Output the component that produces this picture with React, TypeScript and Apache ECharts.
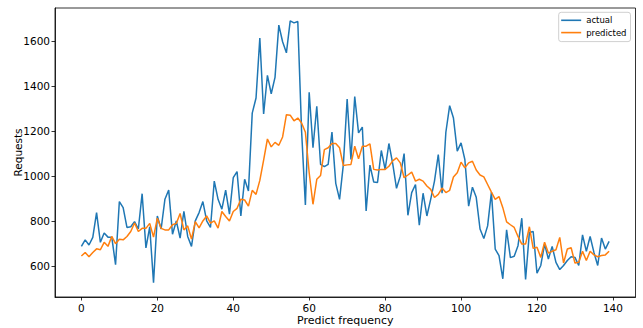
import React, { useEffect, useRef } from "react";
import * as echarts from "echarts";

const actual: number[] = [
  687, 716, 693, 727, 837, 705, 746, 728, 728, 606,
  886, 859, 771, 774, 797, 764, 921, 680, 774, 525,
  822, 764, 896, 937, 741, 800, 724, 843, 731, 687,
  800, 837, 886, 800, 771, 977, 896, 852, 937, 830,
  992, 1019, 822, 985, 933, 1279, 1346, 1613, 1275, 1447,
  1365, 1438, 1670, 1596, 1547, 1689, 1680, 1686, 1200, 871,
  1372, 1125, 1309, 1051, 1041, 1051, 1195, 967, 896, 1050,
  1341, 1073, 1353, 1191, 1217, 844, 1048, 973, 971, 1113,
  1029, 1144, 1055, 945, 999, 1099, 825, 926, 962, 781,
  923, 822, 896, 977, 1095, 923, 1194, 1312, 1257, 1110,
  1147, 1073, 866, 950, 905, 764, 722, 778, 928, 675,
  646, 543, 760, 637, 643, 690, 812, 540, 749, 753,
  568, 602, 697, 631, 687, 616, 584, 602, 624, 641,
  638, 602, 738, 665, 731, 660, 602, 724, 675, 709,
];

const predicted: number[] = [
  644, 660, 641, 660, 676, 672, 705, 687, 731, 699,
  719, 716, 731, 753, 791, 753, 767, 767, 789, 728,
  812, 767, 760, 760, 783, 789, 833, 760, 778, 719,
  797, 769, 800, 822, 790, 800, 768, 842, 820, 800,
  842, 856, 896, 893, 866, 936, 918, 980, 1070, 1164,
  1129, 1149, 1136, 1173, 1272, 1270, 1245, 1257, 1235, 1194,
  1014, 874, 985, 1002, 1117, 1125, 1144, 1144, 1125, 1046,
  1049, 1051, 1132, 1076, 1132, 1132, 1142, 1029, 1026, 1029,
  1029, 1043, 1067, 1080, 1058, 992, 1004, 1017, 977, 985,
  977, 955, 940, 904, 918, 946, 926, 936, 995, 1014,
  1061, 1036, 1058, 1065, 1026, 1004, 996, 962, 928, 896,
  908, 859, 796, 783, 771, 731, 697, 697, 774, 678,
  683, 638, 705, 657, 665, 672, 727, 613, 675, 681,
  613, 616, 665, 624, 665, 649, 641, 646, 649, 665,
];

const xTicks: number[] = [0, 20, 40, 60, 80, 100, 120, 140];
const yTicks: number[] = [600, 800, 1000, 1200, 1400, 1600];

const FONT = "DejaVu Sans";

export default function App() {
  const ref = useRef<HTMLDivElement>(null);
  useEffect(() => {
    if (!ref.current) return;
    const chart = echarts.init(ref.current, undefined, { renderer: "svg" });
    const toPairs = (arr: number[]) => arr.map((v, i) => [i, v]);
    chart.setOption({
      animation: false,
      backgroundColor: "#ffffff",
      grid: {
        left: 55,
        right: 7.5,
        top: 8,
        bottom: 31,
        show: true,
        borderColor: "#000",
        borderWidth: 0.8,
        containLabel: false,
        outerBoundsMode: "none",
      },
      legend: {
        orient: "vertical",
        right: 12.5,
        top: 12.3,
        padding: [3, 4, 4, 2.5],
        itemGap: 2.3,
        itemWidth: 20,
        itemHeight: 1.6,
        icon: "rect",
        borderColor: "#d0d0d0",
        borderWidth: 1,
        borderRadius: 2.5,
        backgroundColor: "rgba(255,255,255,0.8)",
        textStyle: { fontFamily: FONT, fontSize: 8.5, lineHeight: 10, color: "#000" },
        data: ["actual", "predicted"],
      },
      xAxis: {
        type: "value",
        min: -6.95,
        max: 145.95,
        name: "Predict frequency",
        nameLocation: "middle",
        nameGap: 18,
        nameMoveOverlap: false,
        nameTextStyle: { fontFamily: FONT, fontSize: 11, lineHeight: 11, color: "#000", verticalAlign: "top" },
        axisLine: { show: true, onZero: false, lineStyle: { color: "#000", width: 0.8 } },
        axisTick: { show: true, length: 3.5, inside: false, customValues: xTicks, lineStyle: { color: "#000", width: 0.8 } },
        axisLabel: { customValues: xTicks, margin: 5, fontFamily: FONT, fontSize: 10.5, lineHeight: 11, color: "#000", formatter: (v: number) => String(v) },
        splitLine: { show: false },
      },
      yAxis: {
        type: "value",
        min: 462,
        max: 1746,
        name: "Requests",
        nameLocation: "middle",
        nameGap: 32,
        nameMoveOverlap: false,
        nameTextStyle: { fontFamily: FONT, fontSize: 10.5, color: "#000" },
        axisLine: { show: true, onZero: false, lineStyle: { color: "#000", width: 0.8 } },
        axisTick: { show: true, length: 3.5, inside: false, customValues: yTicks, lineStyle: { color: "#000", width: 0.8 } },
        axisLabel: { customValues: yTicks, margin: 5, fontFamily: FONT, fontSize: 10.5, color: "#000", formatter: (v: number) => String(v) },
        splitLine: { show: false },
      },
      series: [
        {
          name: "actual",
          type: "line",
          data: toPairs(actual),
          showSymbol: false,
          symbol: "none",
          color: "#1f77b4",
          lineStyle: { color: "#1f77b4", width: 1.5 },
          z: 2,
        },
        {
          name: "predicted",
          type: "line",
          data: toPairs(predicted),
          showSymbol: false,
          symbol: "none",
          color: "#ff7f0e",
          lineStyle: { color: "#ff7f0e", width: 1.5 },
          z: 3,
        },
      ],
    });
    return () => chart.dispose();
  }, []);
  return (
    <div
      ref={ref}
      style={{ position: "fixed", left: 0, top: 0, width: 643, height: 328, background: "#fff" }}
    />
  );
}
